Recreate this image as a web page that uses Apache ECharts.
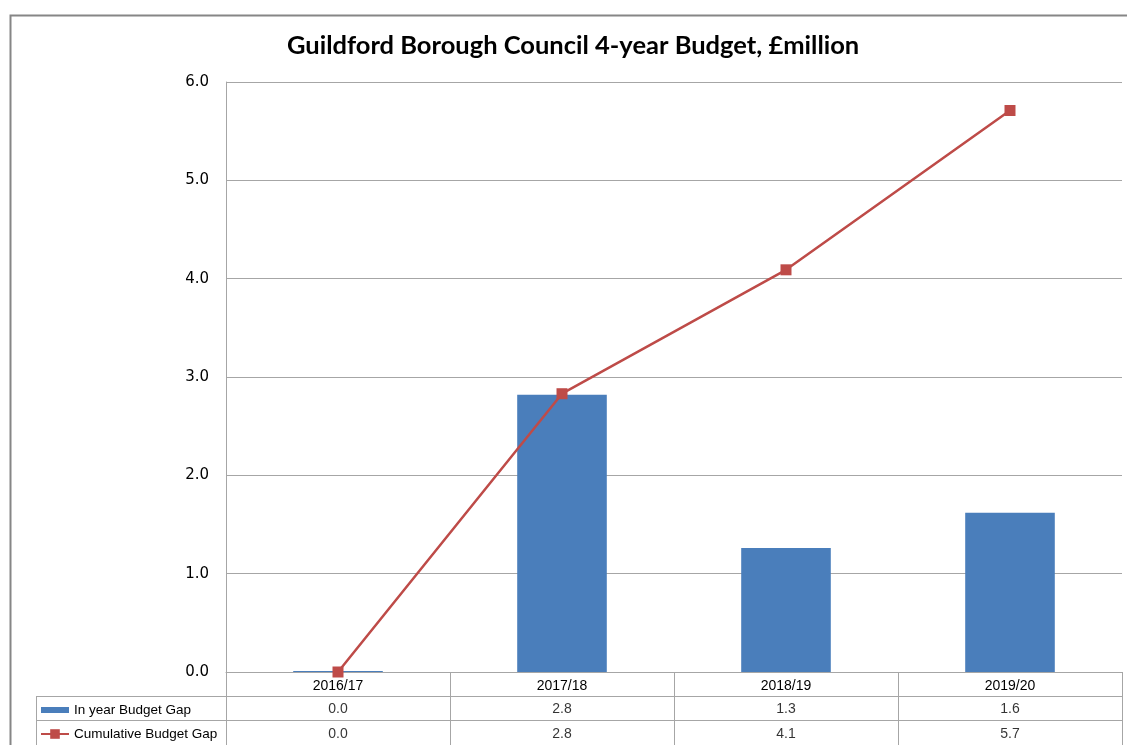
<!DOCTYPE html>
<html>
<head>
<meta charset="utf-8">
<script src="https://cdn.jsdelivr.net/npm/echarts@6/dist/echarts.min.js"></script>
<style>
html,body{margin:0;padding:0;background:#fff;}
#chart{width:1127px;height:745px;}
</style>
</head>
<body>
<div id="chart"></div>
<script>
const categories = ['2016/17', '2017/18', '2018/19', '2019/20'];
const inYearGap = [0.01, 2.82, 1.26, 1.62];
const cumulativeGap = [0.0, 2.83, 4.09, 5.71];
const seriesNames = ['In year Budget Gap', 'Cumulative Budget Gap'];
const yTicks = { min: 0, max: 6, interval: 1 };
const tableRows = ['cat', 'in', 'cum'];

const tableFont = '"Liberation Sans", Arial, sans-serif';
const gridColor = '#a6a6a6';

const cells = [];
categories.forEach((c, i) => {
  cells.push([c, 'in', inYearGap[i]]);
  cells.push([c, 'cum', cumulativeGap[i]]);
});

const chart = echarts.init(document.getElementById('chart'));
chart.setOption({
  animation: false,
  backgroundColor: '#fff',
  title: {
    text: 'Guildford Borough Council 4-year Budget, £million',
    left: 282, top: 28,
    textStyle: { fontFamily: 'Lato', fontWeight: 'bold', fontSize: 25.5, color: '#000' }
  },
  legend: {
    orient: 'vertical', left: 40, top: 703, padding: 0,
    itemWidth: 28, itemHeight: 12, itemGap: 10,
    selectedMode: false,
    textStyle: { fontFamily: tableFont, fontSize: 13.5, lineHeight: 14, color: '#000' },
    data: [
      { name: seriesNames[0], icon: 'path://M0,0L0,0M0,3L28,3L28,9L0,9ZM28,12L28,12' },
      { name: seriesNames[1] }
    ]
  },
  graphic: [{
    type: 'rect', left: 8, top: 13, silent: true,
    shape: { width: 1140, height: 760 },
    style: { fill: 'none', stroke: '#868686', lineWidth: 2 }
  }],
  grid: [
    { left: 226, right: 5, top: 82, height: 590 },
    { left: 226, right: 5, top: 672, height: 73 },
    { left: 36, width: 190, top: 672 + 73 / 3, height: 73 * 2 / 3 }
  ],
  xAxis: [
    {
      gridIndex: 0, type: 'category', data: categories,
      axisLine: { lineStyle: { color: gridColor } },
      axisTick: { show: false },
      axisLabel: { margin: 7, fontFamily: tableFont, fontSize: 14, color: '#000', interval: 0 }
    },
    {
      gridIndex: 1, type: 'category', data: categories,
      axisLine: { show: false }, axisTick: { show: false }, axisLabel: { show: false },
      splitLine: { show: true, interval: 0, lineStyle: { color: gridColor } }
    },
    {
      gridIndex: 2, type: 'value', min: 0, max: 1, interval: 1,
      axisLine: { show: false }, axisTick: { show: false }, axisLabel: { show: false },
      splitLine: { show: true, lineStyle: { color: gridColor } }
    }
  ],
  yAxis: [
    {
      gridIndex: 0, type: 'value', min: yTicks.min, max: yTicks.max, interval: yTicks.interval,
      axisLine: { show: true, lineStyle: { color: gridColor } },
      axisTick: { show: false },
      axisLabel: { margin: 17, fontFamily: 'DejaVu Sans', fontSize: 15, color: '#000',
        formatter: v => v.toFixed(1) },
      splitLine: { lineStyle: { color: gridColor } }
    },
    {
      gridIndex: 1, type: 'category', data: tableRows, inverse: true,
      axisLine: { show: false }, axisTick: { show: false }, axisLabel: { show: false },
      splitLine: { show: true, interval: 0, lineStyle: { color: gridColor } }
    },
    {
      gridIndex: 2, type: 'category', data: ['in', 'cum'], inverse: true,
      axisLine: { show: false }, axisTick: { show: false }, axisLabel: { show: false },
      splitLine: { show: true, interval: 0, lineStyle: { color: gridColor } }
    }
  ],
  series: [
    {
      name: seriesNames[0], type: 'bar', xAxisIndex: 0, yAxisIndex: 0,
      data: inYearGap, barWidth: '40%',
      itemStyle: { color: '#4a7ebb' }, z: 2
    },
    {
      name: seriesNames[1], type: 'line', xAxisIndex: 0, yAxisIndex: 0,
      data: cumulativeGap, symbol: 'rect', symbolSize: 11,
      itemStyle: { color: '#be4b48' }, lineStyle: { color: '#be4b48', width: 2.5 }, z: 3
    },
    {
      name: 'table', type: 'scatter', xAxisIndex: 1, yAxisIndex: 1,
      data: cells, symbolSize: 1, itemStyle: { color: 'rgba(0,0,0,0)' }, silent: true,
      label: { show: true, position: 'inside', fontFamily: tableFont, fontSize: 14, color: '#000',
        offset: [0, 1], formatter: p => p.value[2].toFixed(1) }
    }
  ]
});
</script>
</body>
</html>
